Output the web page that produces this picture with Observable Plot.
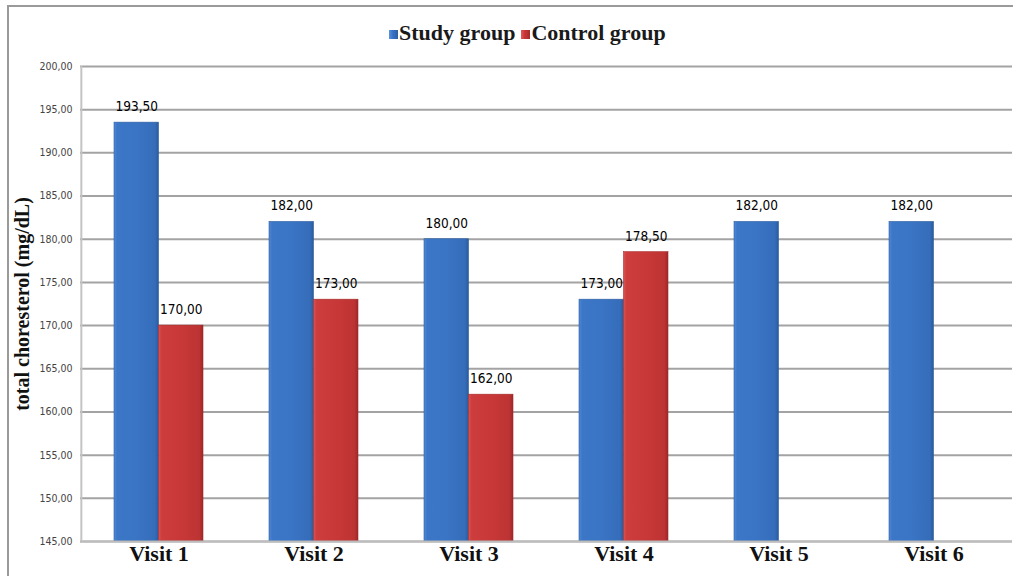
<!DOCTYPE html>
<html>
<head>
<meta charset="utf-8">
<script src="https://cdn.jsdelivr.net/npm/d3@7"></script>
<script src="https://cdn.jsdelivr.net/npm/@observablehq/plot@0.6"></script>
<style>
  html, body { margin: 0; padding: 0; background: #fff; width: 1013px; height: 576px; overflow: hidden; position: relative; }
  #frame { position: absolute; left: 7px; top: 5px; width: 1100px; height: 700px; border-top: 2px solid #9a9a9a; border-left: 2px solid #9a9a9a; }
  #legend { position: absolute; left: 389px; top: 20px; display: flex; align-items: center; font: bold 22px "Liberation Serif", "Times New Roman", serif; color: #1a1a1a; white-space: nowrap; }
  #legend .sw { display: inline-block; width: 9px; height: 9px; margin-right: 1px; margin-top: 2px; }
  #chart { position: absolute; left: 0; top: 50px; }
  g[aria-label="x-axis tick label"] text { font: bold 22px "Liberation Serif", "Times New Roman", serif; fill: #111; }
  g[aria-label="y-axis tick label"] text { font: 10.5px "DejaVu Sans Condensed", "DejaVu Sans", sans-serif; font-stretch: condensed; fill: #444; }
  g[aria-label="y-axis label"] text { font: bold 20px "Liberation Serif", "Times New Roman", serif; fill: #111; }
  g[aria-label="text"] text { font-family: "DejaVu Sans Condensed", "DejaVu Sans", sans-serif; font-stretch: condensed; }
</style>
</head>
<body>
<div id="frame"></div>
<div id="legend">
  <span class="sw" style="background: linear-gradient(90deg,#5b93dc,#3a74c4 40%,#2c5fa6);"></span><span>Study group</span>
  <span class="sw" style="background: linear-gradient(90deg,#e25a5a,#c93838 40%,#a52b2b); margin-left: 6px;"></span><span>Control group</span>
</div>
<div id="chart"></div>
<script>
// ---- data ----
const visits = ["Visit 1", "Visit 2", "Visit 3", "Visit 4", "Visit 5", "Visit 6"];
const studyValues = [193.5, 182, 180, 173, 182, 182];
const controlValues = [170, 173, 162, 178.5, null, null];
const seriesNames = ["Study group", "Control group"];
const yTicks = [145, 150, 155, 160, 165, 170, 175, 180, 185, 190, 195, 200];
const yTitle = "total choresterol (mg/dL)";

// ---- layout ----
const width = 1013, height = 526;
const marginLeft = 80, marginRight = 1, marginTop = 16, marginBottom = 35;
const padInner = 0.427, padOuter = padInner / 2;
const step = (width - marginLeft - marginRight) / (visits.length - padInner + 2 * padOuter);
const halfBand = step * (1 - padInner) / 2;
const yMin = yTicks[0];

const study = visits.map((v, i) => ({visit: v, series: seriesNames[0], value: studyValues[i]}));
const control = visits.map((v, i) => ({visit: v, series: seriesNames[1], value: controlValues[i]})).filter(d => d.value != null);
const fmt = v => v.toFixed(2).replace(".", ",");

const chart = Plot.plot({
  width, height, marginLeft, marginRight, marginTop, marginBottom,
  x: {domain: visits, paddingInner: padInner, paddingOuter: padOuter, label: null},
  y: {domain: [yTicks[0], yTicks[yTicks.length - 1]], label: null},
  marks: [
    Plot.gridY(yTicks, {stroke: "#a3a3a3", strokeOpacity: 1, strokeWidth: 2}),
    Plot.ruleX([visits[0]], {x: d => d, dx: -step / 2, stroke: "#c4c4c4", strokeWidth: 2}),
    Plot.barY(study, {x: "visit", y1: yMin, y2: "value", insetRight: halfBand, fill: "url(#gBlue)", stroke: "#2d5d9f", strokeWidth: 0.6}),
    Plot.barY(control, {x: "visit", y1: yMin, y2: "value", insetLeft: halfBand, fill: "url(#gRed)", stroke: "#a52b2b", strokeWidth: 0.6}),
    Plot.ruleY([yMin], {stroke: "#bdbdbd", strokeWidth: 2}),
    Plot.text(study, {x: "visit", y: "value", text: d => fmt(d.value), dx: -halfBand / 2, dy: -16, fontSize: 13.5, fill: "#000"}),
    Plot.text(control, {x: "visit", y: "value", text: d => fmt(d.value), dx: halfBand / 2, dy: -16, fontSize: 13.5, fill: "#000"}),
    Plot.axisY({ticks: yTicks, tickFormat: fmt, tickSize: 0, tickPadding: 8, label: yTitle, labelAnchor: "center", labelArrow: "none", labelOffset: 66}),
    Plot.axisX({tickSize: 0, tickPadding: 4, label: null})
  ]
});

// gradient definitions for bevelled bars
const svg = d3.select(chart);
const defs = svg.insert("defs", ":first-child");
function grad(id, stops) {
  const g = defs.append("linearGradient").attr("id", id).attr("x1", 0).attr("x2", 1).attr("y1", 0).attr("y2", 0);
  stops.forEach(([o, c]) => g.append("stop").attr("offset", o).attr("stop-color", c));
}
grad("gBlue", [[0, "#5089d6"], [0.07, "#3c77c7"], [0.5, "#3a74c4"], [0.92, "#356dba"], [1, "#2a5a9c"]]);
grad("gRed", [[0, "#dd5252"], [0.07, "#cd3d3d"], [0.5, "#c93838"], [0.92, "#bd3333"], [1, "#9c2828"]]);

document.getElementById("chart").appendChild(chart);
</script>
</body>
</html>
